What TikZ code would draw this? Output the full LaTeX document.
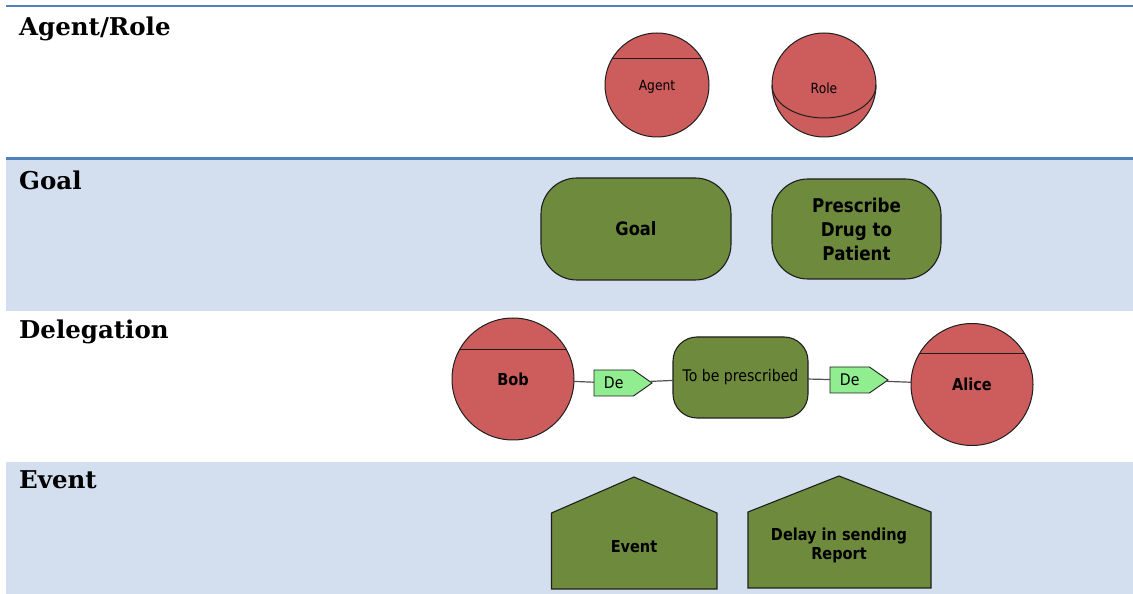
\documentclass[tikz,border=0pt]{standalone}
\usepackage{fontspec}
\setmainfont{DejaVu Serif}
\newfontfamily\shapefont[FakeStretch=0.88]{DejaVu Sans}
\usetikzlibrary{positioning,shapes.symbols,calc}
\definecolor{rule}{HTML}{4F81BD}
\definecolor{band}{HTML}{D3DFEE}
\definecolor{agentred}{HTML}{CD5C5C}
\definecolor{goalgreen}{HTML}{6E8B3D}
\definecolor{delgreen}{HTML}{90EE90}
\definecolor{edge}{HTML}{1E1E1E}
\definecolor{wire}{HTML}{505050}
\tikzset{
  head/.style={anchor=base west, inner sep=0pt, font=\bfseries\fontsize{24.5pt}{28pt}\selectfont},
  actor/.style={circle, draw=edge, line width=1pt, fill=agentred, inner sep=0pt, outer sep=0pt,
    font=\shapefont\fontsize{14pt}{16pt}\selectfont},
  alab/.style={font=\shapefont\fontsize{14pt}{16pt}\selectfont},
  named/.style={actor, minimum size=122pt, font=\shapefont\bfseries\fontsize{16.5pt}{19pt}\selectfont},
  goalbox/.style={draw=edge, line width=1.1pt, fill=goalgreen, rounded corners=36pt, align=center,
    inner sep=0pt, outer sep=0pt, font=\shapefont\bfseries\fontsize{18.5pt}{24pt}\selectfont},
  debox/.style={signal, signal to=east, signal pointer angle=70, draw=edge, fill=delgreen,
    line width=0.9pt, inner sep=0pt, outer sep=0pt, minimum width=58pt, minimum height=26pt,
    font=\shapefont\fontsize{16pt}{18pt}\selectfont},
  evbox/.style={draw=edge, line width=1.1pt, fill=goalgreen},
  evtext/.style={align=center, font=\shapefont\bfseries\fontsize{16.5pt}{19pt}\selectfont},
  wire/.style={draw=wire, line width=1.2pt},
}
\begin{document}
\begin{tikzpicture}[x=1pt, y=1pt]
  \useasboundingbox (0,0) rectangle (1133,594);
  % bands and rules of the table
  \fill[band] (6,283) rectangle (1133,433.5);
  \fill[band] (6,0) rectangle (1133,132);
  \draw[rule, line width=2.5pt] (6,588) -- (1133,588);
  \draw[rule, line width=3pt] (6,435) -- (1133,435);

  \node[head] (hagent) at (19,558) {Agent/Role};
  \node[head] (hgoal) at (19,404) {Goal};
  \node[head] (hdel) at (19,255) {Delegation};
  \node[head] (hevent) at (19,105) {Event};

  % agent / role
  \node[actor, minimum size=104pt] (agent) at (657,509) {};
  \node[alab] (agentlab) at ([yshift=-2pt]agent.center) {Agent};
  \draw[edge, line width=1pt] (agent.150) -- (agent.30);
  \node[actor, minimum size=104pt, right=63pt of agent] (role) {};
  \draw[edge, line width=1pt] (role.west) arc[start angle=180, end angle=360, x radius=52pt, y radius=33pt];
  \node[alab] (rolelab) at ([yshift=-3pt]role.center) {Role};

  % goals
  \node[goalbox, minimum width=190pt, minimum height=102pt] (goal) at (636,365) {Goal};
  \node[goalbox, minimum width=169pt, minimum height=100pt, right=41pt of goal,
    font=\shapefont\bfseries\fontsize{19pt}{24pt}\selectfont] (drug) {Prescribe\\Drug to\\Patient};

  % delegation
  \node[named] (bob) at (513,215) {Bob};
  \draw[edge, line width=1pt] (bob.151) -- (bob.29);
  \node[debox, right=20pt of bob, yshift=-4pt] (de1) {De};
  \node[goalbox, rounded corners=24pt, minimum width=135pt, minimum height=81pt,
    right=21pt of de1, yshift=5.5pt, font=\shapefont\fontsize{16pt}{18pt}\selectfont] (todo) {To be prescribed};
  \node[debox, right=22pt of todo, yshift=-2.5pt] (de2) {De};
  \node[named, right=23pt of de2, yshift=-4.5pt] (alice) {Alice};
  \draw[edge, line width=1pt] (alice.150) -- (alice.30);
  \draw[wire] (bob) -- (de1);
  \draw[wire] (de1) -- (todo);
  \draw[wire] (todo) -- (de2);
  \draw[wire] (de2) -- (alice);

  % events
  \draw[evbox] (551.5,5) -- (551.5,81) -- (634,117) -- (717,81) -- (717,5) -- cycle;
  \node[evtext] (event) at (634,47) {Event};
  \draw[evbox] (748,6) -- (748,82) -- (839,118) -- (931,82) -- (931,6) -- cycle;
  \node[evtext] (delay) at (839,49) {Delay in sending\\Report};
\end{tikzpicture}
\end{document}
